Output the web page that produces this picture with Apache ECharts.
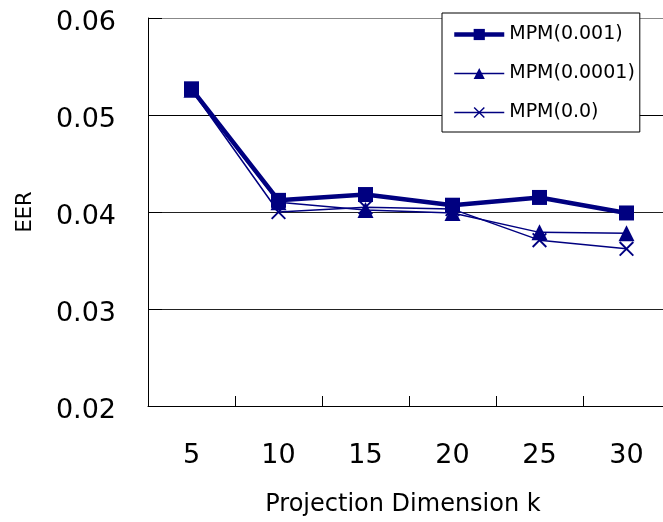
<!DOCTYPE html>
<html>
<head>
<meta charset="utf-8">
<script src="https://cdn.jsdelivr.net/npm/echarts@6/dist/echarts.min.js"></script>
<style>
  html, body { margin: 0; padding: 0; background: #fff; }
  #chart { width: 663px; height: 522px; }
</style>
</head>
<body>
<div id="chart"></div>
<script>
// Projection dimension k
const categories = ['5', '10', '15', '20', '25', '30'];
// EER for each regularisation weight
const mpm001 = [0.0527, 0.0412, 0.0418, 0.0407, 0.0415, 0.0399];
const mpm0001 = [0.0526, 0.0410, 0.0402, 0.0399, 0.0379, 0.0378];
const mpm00 = [0.0526, 0.0400, 0.0405, 0.0403, 0.0371, 0.0362];
const seriesNames = ['MPM(0.001)', 'MPM(0.0001)', 'MPM(0.0)'];
const yTicks = [0.02, 0.03, 0.04, 0.05, 0.06];

const navy = '#000080';
const font = '"DejaVu Sans", "Noto Sans", sans-serif';
const crossPath = 'path://M0,0.9L0.9,0L10,9.1L9.1,10Z M9.1,0L10,0.9L0.9,10L0,9.1Z';

const chart = echarts.init(document.getElementById('chart'));
chart.setOption({
  animation: false,
  backgroundColor: '#fff',
  textStyle: { fontFamily: font },
  // the plot runs a little past the right edge of the canvas
  grid: { left: 148, top: 18, width: 522, height: 388, outerBoundsMode: 'none', containLabel: false },
  legend: {
    orient: 'vertical',
    left: 442,
    top: 13,
    padding: [12, 5, 10, 10],
    itemGap: 20,
    itemWidth: 50,
    itemHeight: 14,
    backgroundColor: '#fff',
    borderColor: '#000',
    borderWidth: 1,
    textStyle: { fontFamily: font, fontSize: 19, color: '#000' },
    data: [
      { name: seriesNames[0], lineStyle: { width: 4.5 } },
      { name: seriesNames[1], lineStyle: { width: 1.5 } },
      { name: seriesNames[2], lineStyle: { width: 1.5 } }
    ]
  },
  xAxis: {
    type: 'category',
    data: categories,
    boundaryGap: true,
    name: 'Projection Dimension k',
    nameLocation: 'middle',
    nameGap: 87,
    nameTextStyle: { fontFamily: font, fontSize: 24, color: '#000', padding: [0, 12, 0, 0] },
    axisLine: { show: true, lineStyle: { color: '#000', width: 1 } },
    axisTick: { show: true, inside: true, length: 10, lineStyle: { color: '#000', width: 1 } },
    axisLabel: { margin: 36, fontFamily: font, fontSize: 27, color: '#000' },
    splitLine: { show: false }
  },
  yAxis: {
    type: 'value',
    min: yTicks[0],
    max: yTicks[yTicks.length - 1],
    interval: 0.01,
    name: 'EER',
    nameLocation: 'middle',
    nameGap: 112,
    nameRotate: 90,
    nameTextStyle: { fontFamily: font, fontSize: 21, color: '#000' },
    axisLine: { show: true, lineStyle: { color: '#000', width: 1 } },
    axisTick: { show: true, inside: true, length: 14, lineStyle: { color: '#000' } },
    axisLabel: {
      margin: 32,
      fontFamily: font,
      fontSize: 27,
      color: '#000',
      verticalAlign: 'top',
      lineHeight: 9,
      formatter: v => v.toFixed(2)
    },
    splitLine: {
      show: true,
      lineStyle: { color: ['#000', '#222', '#222', '#000', '#888'], width: 1 }
    }
  },
  series: [
    {
      name: seriesNames[0],
      type: 'line',
      data: mpm001,
      z: 5,
      symbol: 'rect',
      symbolSize: 15,
      color: navy,
      lineStyle: { color: navy, width: 4.5 },
      itemStyle: { color: navy }
    },
    {
      name: seriesNames[1],
      type: 'line',
      data: mpm0001,
      z: 4,
      symbol: 'triangle',
      symbolSize: 16,
      color: navy,
      lineStyle: { color: navy, width: 1.5 },
      itemStyle: { color: navy }
    },
    {
      name: seriesNames[2],
      type: 'line',
      data: mpm00,
      z: 3,
      symbol: crossPath,
      symbolSize: 15,
      color: navy,
      lineStyle: { color: navy, width: 1.5 },
      itemStyle: { color: navy }
    }
  ]
});
</script>
</body>
</html>
